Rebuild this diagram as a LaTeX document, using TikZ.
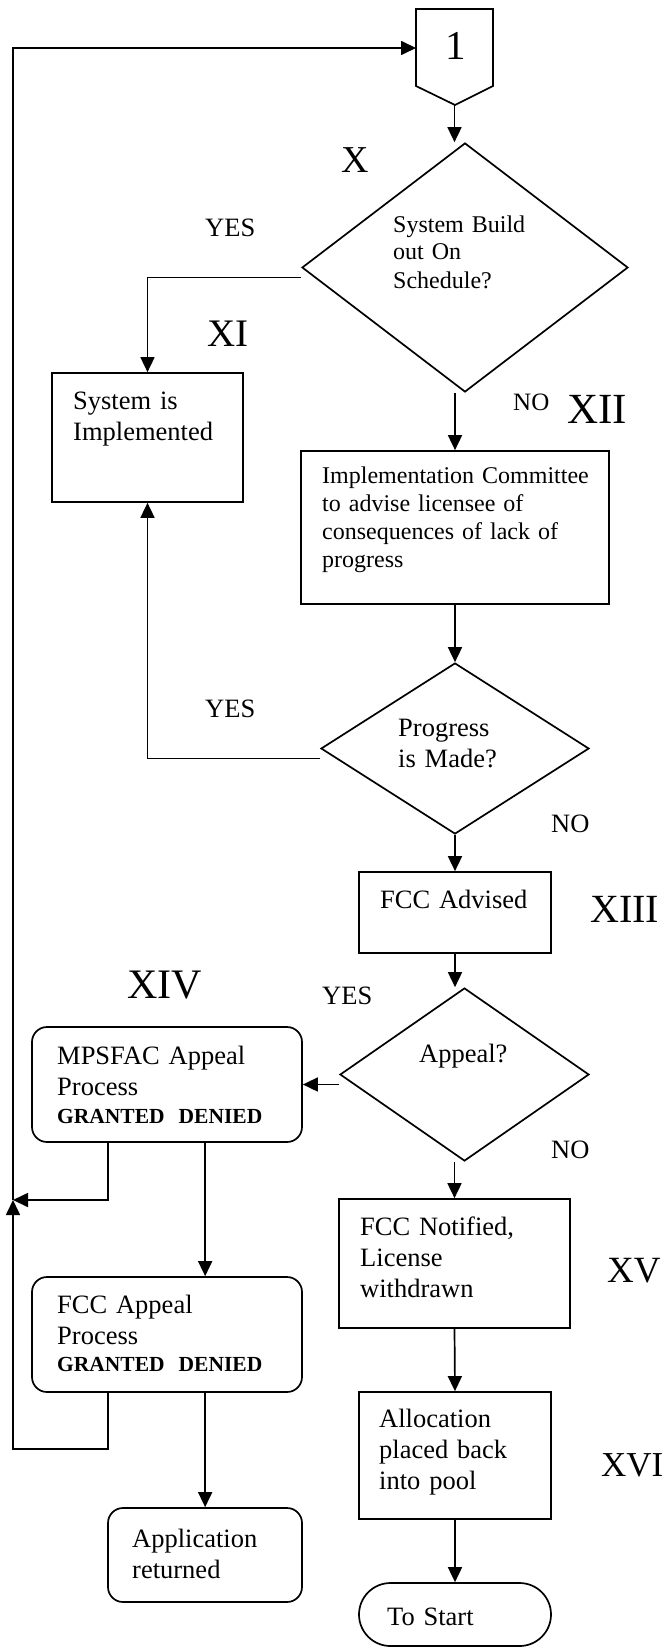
\documentclass[tikz,border=0pt]{standalone}
\usepackage{fontspec}
\setmainfont{Liberation Serif}
\usetikzlibrary{arrows.meta,shapes.geometric,calc}
\begin{document}
\begin{tikzpicture}[x=1pt,y=-1pt,
  ln/.style={line width=1.7pt},
  arr/.style={line width=1.7pt,-{Triangle[length=15pt,width=14pt]}},
  box/.style={draw,line width=1.7pt,inner sep=0pt},
  rbox/.style={box,rounded corners=15pt},
  dia/.style={draw,diamond,line width=1.7pt,inner sep=0pt},
  txt/.style={anchor=base west,inner sep=0pt,text width=300pt,align=left,font=\fontsize{26.5pt}{31pt}\selectfont},
  stxt/.style={txt,font=\fontsize{24pt}{28pt}\selectfont},
  btxt/.style={anchor=base west,inner sep=0pt,font=\fontsize{21.5pt}{25pt}\selectfont\bfseries},
  yn/.style={anchor=base west,inner sep=0pt,font=\fontsize{26.5pt}{31pt}\selectfont},
  rom/.style={anchor=base west,inner sep=0pt,font=\fontsize{40pt}{46pt}\selectfont},
]
\useasboundingbox (0,0) rectangle (670,1648);

% off-page connector "1"
\draw[ln] (416,9) -- (493,9) -- (493,86) -- (455,105) -- (416,86) -- cycle;
\node (one) [inner sep=0pt,minimum width=77pt,minimum height=96pt] at (454.5,57) {};
\node (onetxt) [anchor=base,inner sep=0pt,font=\fontsize{41pt}{46pt}\selectfont] at (456,60) {1};
\coordinate (oneW) at (416,48);

% shapes
\node (d1) [dia,minimum width=326pt,minimum height=249pt] at (465,267.5) {};
\node (sysimp) [box,minimum width=191pt,minimum height=129pt] at (147.5,437.5) {};
\node (impl) [box,minimum width=308pt,minimum height=153pt] at (455,527.5) {};
\node (d2) [dia,minimum width=268pt,minimum height=171pt] at (455,748.5) {};
\node (fccadv) [box,minimum width=192pt,minimum height=81pt] at (455,912.5) {};
\node (d3) [dia,minimum width=249pt,minimum height=173pt] at (464.5,1074.5) {};
\node (mps) [rbox,minimum width=270pt,minimum height=115pt] at (167,1084.5) {};
\node (fccapp) [rbox,minimum width=270pt,minimum height=115pt] at (167,1334.5) {};
\node (app) [rbox,minimum width=194pt,minimum height=94pt] at (205,1555) {};
\node (fccnot) [box,minimum width=231pt,minimum height=129pt] at (454.5,1263.5) {};
\node (alloc) [box,minimum width=192pt,minimum height=127pt] at (455,1455.5) {};
\node (tostart) [box,rounded corners=31.5pt,minimum width=192pt,minimum height=63pt] at (455,1614.5) {};

% texts
\node (t1) [stxt] at (393,232) {System Build\\out On\\Schedule?};
\node (t2) [txt] at (73,409) {System is\\Implemented};
\node (t3) [stxt] at (322,483) {Implementation Committee\\to advise licensee of\\consequences of lack of\\progress};
\node (t4) [txt] at (398,736) {Progress\\is Made?};
\node (t5) [txt] at (380,908) {FCC Advised};
\node (t6) [txt] at (419,1062) {Appeal?};
\node (t7) [txt] at (57,1064) {MPSFAC Appeal\\Process};
\node (t7b) [btxt] at (57,1123) {GRANTED\hspace{14pt}DENIED};
\node (t8) [txt] at (57,1313) {FCC Appeal\\Process};
\node (t8b) [btxt] at (57,1371) {GRANTED\hspace{14pt}DENIED};
\node (t9) [txt] at (132,1547) {Application\\returned};
\node (t10) [txt] at (360,1235) {FCC Notified,\\License\\withdrawn};
\node (t11) [txt] at (379,1427) {Allocation\\placed back\\into pool};
\node (t12) [txt] at (387,1625) {To Start};

% labels
\node (yes1) [yn] at (205,236) {YES};
\node (no1) [yn,font=\fontsize{25pt}{30pt}\selectfont] at (513,410) {NO};
\node (yes2) [yn] at (205,717) {YES};
\node (no2) [yn] at (551,832) {NO};
\node (yes3) [yn] at (322,1004) {YES};
\node (no3) [yn] at (551,1158) {NO};

\node (rX) [rom,font=\fontsize{38pt}{44pt}\selectfont] at (341,173) {X};
\node (rXI) [rom,font=\fontsize{39pt}{44pt}\selectfont] at (207,346) {XI};
\node (rXII) [rom,font=\fontsize{43pt}{48pt}\selectfont] at (567,423) {XII};
\node (rXIII) [rom] at (590,922) {XIII};
\node (rXIV) [rom,font=\fontsize{42pt}{48pt}\selectfont] at (127,998) {XIV};
\node (rXV) [rom,font=\fontsize{37pt}{44pt}\selectfont] at (607,1282) {XV};
\node (rXVI) [rom,font=\fontsize{35pt}{42pt}\selectfont] at (601,1476) {XVI};

% connectors
\draw[arr] (one.south) -- (one.south |- d1.north);
\coordinate (d1w) at ($(d1.west)+(0,10)$);
\draw[arr] (d1w) -| (sysimp.north);
\draw[arr] (d1.south -| impl.north) -- (impl.north);
\draw[arr] (impl.south) -- (d2.north);
\coordinate (d2w) at ($(d2.west)+(0,10)$);
\draw[arr] (d2w) -| (sysimp.south);
\draw[arr] (d2.south) -- (fccadv.north);
\draw[arr] (fccadv.south) -- (fccadv.south |- d3.north);
\coordinate (d3w) at ($(d3.west)+(0,10)$);
\draw[arr] (d3w) -- (d3w -| mps.east);
\draw[arr] (d3.south -| fccnot.north) -- (fccnot.north);
\draw[arr] (fccnot.south) -- (alloc.north);
\draw[arr] (alloc.south) -- (tostart.north);

\coordinate (J) at (13,1200);
\coordinate (L) at (13,1449);
\coordinate (mpsG) at ($(mps.south west)+(77,0)$);
\coordinate (mpsD) at ($(mps.south west)+(174,0)$);
\coordinate (fccG) at ($(fccapp.south west)+(77,0)$);
\coordinate (fccD) at ($(fccapp.south west)+(174,0)$);
\draw[arr] (mpsG) |- (J);
\draw[arr] (fccG) |- (L) -- (J);
\draw[arr] (J) -- (J |- oneW) -- (oneW);
\draw[arr] (mpsD) -- (mpsD |- fccapp.north);
\draw[arr] (fccD) -- (fccD |- app.north);
\end{tikzpicture}
\end{document}
